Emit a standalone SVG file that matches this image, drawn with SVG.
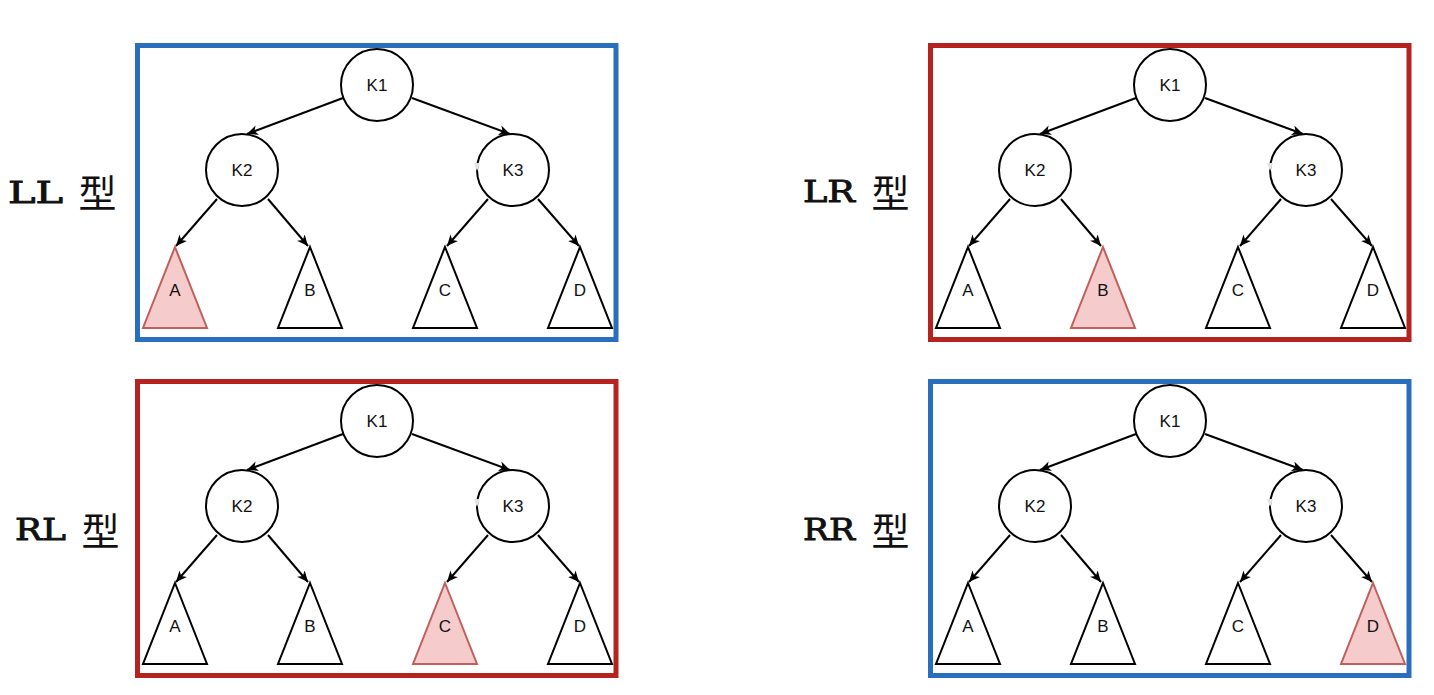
<svg xmlns="http://www.w3.org/2000/svg" width="1434" height="695" viewBox="0 0 1434 695">
<defs>
<style>
.box{fill:none;stroke-width:5}
.blue{stroke:#2a6ebe}
.red{stroke:#b4231e}
.node{fill:#fff;stroke:#000;stroke-width:2}
.tri{fill:#fff;stroke:#000;stroke-width:2;stroke-linejoin:miter}
.hl{fill:#f5cbcb;stroke:#c0605b}
.edge{fill:none;stroke:#000;stroke-width:2;marker-end:url(#arr)}
.t{font-family:"Liberation Sans",Arial,sans-serif;font-size:17px;text-anchor:middle;fill:#111}
.lab{font-family:"DejaVu Serif","Liberation Serif",serif;font-weight:normal;font-size:30px;fill:#111;stroke:#111;stroke-width:0.9}
.cjk{font-family:"Noto Sans CJK SC",sans-serif;font-weight:normal;font-size:38px;stroke:none}
.art{fill:#e4e4e4;stroke:none}
</style>
<marker id="arr" markerUnits="userSpaceOnUse" markerWidth="14" markerHeight="12" refX="11" refY="5" orient="auto">
<path d="M0,0 L11,5 L0,10 L3,5 Z" fill="#000"/>
</marker>
</defs>
<rect width="1434" height="695" fill="#fff"/>

<!-- Labels -->
<g id="label-LL"><text class="lab" y="203"><tspan x="8" textLength="55" lengthAdjust="spacingAndGlyphs">LL</tspan><tspan class="cjk" x="70" y="207"> 型</tspan></text></g>
<g id="label-LR"><text class="lab" y="202"><tspan x="803" textLength="52" lengthAdjust="spacingAndGlyphs">LR</tspan><tspan class="cjk" x="863" y="207"> 型</tspan></text></g>
<g id="label-RL"><text class="lab" y="540"><tspan x="15" textLength="51" lengthAdjust="spacingAndGlyphs">RL</tspan><tspan class="cjk" x="73" y="545"> 型</tspan></text></g>
<g id="label-RR"><text class="lab" y="540"><tspan x="803" textLength="52" lengthAdjust="spacingAndGlyphs">RR</tspan><tspan class="cjk" x="863" y="545"> 型</tspan></text></g>

<!-- Panel LL -->
<g id="panel-LL">
<rect id="LL-frame" class="box blue" x="137.5" y="45.5" width="478.5" height="294"/>
<g id="LL-edges">
<path class="edge" d="M343,98 L247,134"/>
<path class="edge" d="M412,98 L510,134"/>
<path class="edge" d="M217,199 L176,246"/>
<path class="edge" d="M268,199 L308,246"/>
<path class="edge" d="M488,199 L447,246"/>
<path class="edge" d="M538,199 L579,246"/>
</g>
<g id="LL-K1"><circle class="node" cx="377" cy="85" r="36"/><text class="t" x="377" y="91">K1</text></g>
<g id="LL-K2"><circle class="node" cx="242" cy="170" r="36"/><text class="t" x="242" y="176">K2</text></g>
<g id="LL-K3"><circle class="node" cx="513" cy="170" r="36"/><path class="art" d="M474,163 L480,163 L477,171 Z"/><text class="t" x="513" y="176">K3</text></g>
<g id="LL-A"><path class="tri hl" d="M175,247 L207,328 L143,328 Z"/><text class="t" x="175" y="296">A</text></g>
<g id="LL-B"><path class="tri" d="M310,247 L342,328 L278,328 Z"/><text class="t" x="310" y="296">B</text></g>
<g id="LL-C"><path class="tri" d="M445,247 L477,328 L413,328 Z"/><text class="t" x="445" y="296">C</text></g>
<g id="LL-D"><path class="tri" d="M580,247 L612,328 L548,328 Z"/><text class="t" x="580" y="296">D</text></g>
</g>

<!-- Panel LR -->
<g id="panel-LR" transform="translate(793,0)">
<rect id="LR-frame" class="box red" x="137.5" y="45.5" width="478.5" height="294"/>
<g id="LR-edges">
<path class="edge" d="M343,98 L247,134"/>
<path class="edge" d="M412,98 L510,134"/>
<path class="edge" d="M217,199 L176,246"/>
<path class="edge" d="M268,199 L308,246"/>
<path class="edge" d="M488,199 L447,246"/>
<path class="edge" d="M538,199 L579,246"/>
</g>
<g id="LR-K1"><circle class="node" cx="377" cy="85" r="36"/><text class="t" x="377" y="91">K1</text></g>
<g id="LR-K2"><circle class="node" cx="242" cy="170" r="36"/><text class="t" x="242" y="176">K2</text></g>
<g id="LR-K3"><circle class="node" cx="513" cy="170" r="36"/><path class="art" d="M474,163 L480,163 L477,171 Z"/><text class="t" x="513" y="176">K3</text></g>
<g id="LR-A"><path class="tri" d="M175,247 L207,328 L143,328 Z"/><text class="t" x="175" y="296">A</text></g>
<g id="LR-B"><path class="tri hl" d="M310,247 L342,328 L278,328 Z"/><text class="t" x="310" y="296">B</text></g>
<g id="LR-C"><path class="tri" d="M445,247 L477,328 L413,328 Z"/><text class="t" x="445" y="296">C</text></g>
<g id="LR-D"><path class="tri" d="M580,247 L612,328 L548,328 Z"/><text class="t" x="580" y="296">D</text></g>
</g>

<!-- Panel RL -->
<g id="panel-RL" transform="translate(0,336)">
<rect id="RL-frame" class="box red" x="137.5" y="45.5" width="478.5" height="294"/>
<g id="RL-edges">
<path class="edge" d="M343,98 L247,134"/>
<path class="edge" d="M412,98 L510,134"/>
<path class="edge" d="M217,199 L176,246"/>
<path class="edge" d="M268,199 L308,246"/>
<path class="edge" d="M488,199 L447,246"/>
<path class="edge" d="M538,199 L579,246"/>
</g>
<g id="RL-K1"><circle class="node" cx="377" cy="85" r="36"/><text class="t" x="377" y="91">K1</text></g>
<g id="RL-K2"><circle class="node" cx="242" cy="170" r="36"/><text class="t" x="242" y="176">K2</text></g>
<g id="RL-K3"><circle class="node" cx="513" cy="170" r="36"/><path class="art" d="M474,163 L480,163 L477,171 Z"/><text class="t" x="513" y="176">K3</text></g>
<g id="RL-A"><path class="tri" d="M175,247 L207,328 L143,328 Z"/><text class="t" x="175" y="296">A</text></g>
<g id="RL-B"><path class="tri" d="M310,247 L342,328 L278,328 Z"/><text class="t" x="310" y="296">B</text></g>
<g id="RL-C"><path class="tri hl" d="M445,247 L477,328 L413,328 Z"/><text class="t" x="445" y="296">C</text></g>
<g id="RL-D"><path class="tri" d="M580,247 L612,328 L548,328 Z"/><text class="t" x="580" y="296">D</text></g>
</g>

<!-- Panel RR -->
<g id="panel-RR" transform="translate(793,336)">
<rect id="RR-frame" class="box blue" x="137.5" y="45.5" width="478.5" height="294"/>
<g id="RR-edges">
<path class="edge" d="M343,98 L247,134"/>
<path class="edge" d="M412,98 L510,134"/>
<path class="edge" d="M217,199 L176,246"/>
<path class="edge" d="M268,199 L308,246"/>
<path class="edge" d="M488,199 L447,246"/>
<path class="edge" d="M538,199 L579,246"/>
</g>
<g id="RR-K1"><circle class="node" cx="377" cy="85" r="36"/><text class="t" x="377" y="91">K1</text></g>
<g id="RR-K2"><circle class="node" cx="242" cy="170" r="36"/><text class="t" x="242" y="176">K2</text></g>
<g id="RR-K3"><circle class="node" cx="513" cy="170" r="36"/><path class="art" d="M474,163 L480,163 L477,171 Z"/><text class="t" x="513" y="176">K3</text></g>
<g id="RR-A"><path class="tri" d="M175,247 L207,328 L143,328 Z"/><text class="t" x="175" y="296">A</text></g>
<g id="RR-B"><path class="tri" d="M310,247 L342,328 L278,328 Z"/><text class="t" x="310" y="296">B</text></g>
<g id="RR-C"><path class="tri" d="M445,247 L477,328 L413,328 Z"/><text class="t" x="445" y="296">C</text></g>
<g id="RR-D"><path class="tri hl" d="M580,247 L612,328 L548,328 Z"/><text class="t" x="580" y="296">D</text></g>
</g>
</svg>
